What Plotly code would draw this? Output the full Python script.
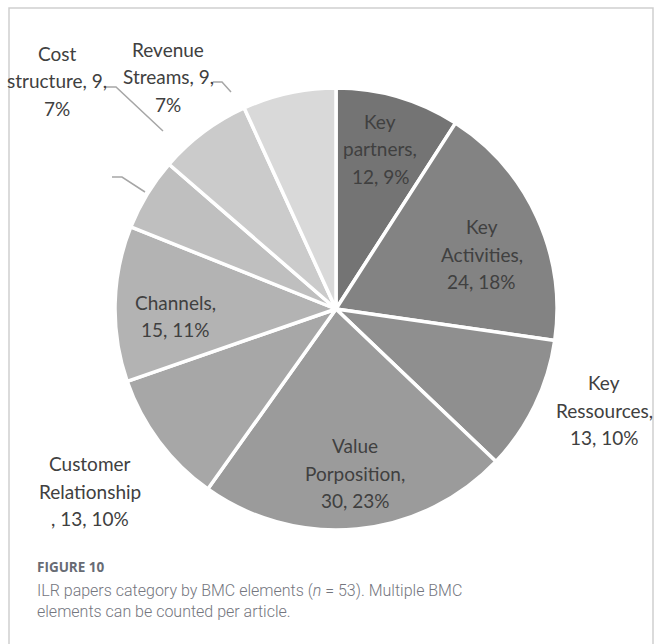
import plotly.graph_objects as go

# BMC element counts across ILR papers (clockwise from 12 o'clock)
elements = ["Key partners", "Key Activities", "Key Ressources", "Value Porposition",
            "Customer Relationship", "Channels", "Customer Segments",
            "Cost structure", "Revenue Streams"]
counts = [12, 24, 13, 30, 13, 15, 7, 9, 9]
slice_colors = ["#747474", "#838383", "#8f8f8f", "#9b9b9b", "#a7a7a7",
                "#b3b3b3", "#bfbfbf", "#cbcbcb", "#d9d9d9"]
# how each label wraps; None = label left blank
label_lines = [["Key", "partners,", "{v}, {p}%"],
               ["Key", "Activities,", "{v}, {p}%"],
               ["Key", "Ressources,", "{v}, {p}%"],
               ["Value", "Porposition,", "{v}, {p}%"],
               ["Customer", "Relationship", ", {v}, {p}%"],
               ["Channels,", "{v}, {p}%"],
               None,
               ["Cost", "structure, {v},", "{p}%"],
               ["Revenue", "Streams, {v},", "{p}%"]]

W, H = 654, 644
CX, CY, R = 336, 309, 221
LINE_GAP = 27.5

# label block centres in pixels (layout only)
label_pos = [(380, 149), (482, 254), (604, 410), (355, 473), (90, 491),
             (175, 316), None, (57, 81), (168, 77)]
# leader lines (pixel polylines) for the outside labels
leaders = [[(105, 87), (116, 87), (163, 131)],
           [(213, 82), (222, 82), (231, 92)],
           [(112, 177), (122, 177), (145, 192)]]


def px(x, y):
    return x / W, 1 - y / H


total = sum(counts)
fig = go.Figure(go.Pie(
    labels=elements, values=counts, sort=False, direction="clockwise",
    rotation=0, textinfo="none", hoverinfo="label+value+percent",
    marker=dict(colors=slice_colors, line=dict(color="white", width=3.5)),
    domain=dict(x=[(CX - R) / W, (CX + R) / W],
                y=[1 - (CY + R) / H, 1 - (CY - R) / H]),
    showlegend=False,
))

annotations = []
for lines, v, pos in zip(label_lines, counts, label_pos):
    if lines is None:
        continue
    p = round(100 * v / total)
    n = len(lines)
    for k, s in enumerate(lines):
        yy = pos[1] + (k - (n - 1) / 2) * LINE_GAP
        x, y = px(pos[0], yy)
        annotations.append(dict(x=x, y=y, xref="paper", yref="paper",
                                text=s.format(v=v, p=p), showarrow=False,
                                xanchor="center", yanchor="middle",
                                font=dict(family="Lato", size=19, color="#404040")))

shapes = []
for pts in leaders:
    path = "M " + " L ".join("{:.5f},{:.5f}".format(*px(*q)) for q in pts)
    shapes.append(dict(type="path", path=path, xref="paper", yref="paper",
                       line=dict(color="#a6a6a6", width=1.5)))

# figure frame
x0, y0 = px(9, 8)
x1, _ = px(653, 8)
shapes.append(dict(type="rect", xref="paper", yref="paper", x0=x0, x1=x1,
                   y0=-0.2, y1=y0, line=dict(color="#cfcfcf", width=1.5)))

# caption
cx, cy = px(35, 567)
annotations.append(dict(x=cx, y=cy, xref="paper", yref="paper", text="<b>FIGURE 10</b>",
                        showarrow=False, xanchor="left", yanchor="middle",
                        font=dict(family="Open Sans", size=13.5, color="#676b74")))
cx, cy = px(35, 601)
annotations.append(dict(
    x=cx, y=cy, xref="paper", yref="paper",
    text="ILR papers category by BMC elements (<i>n</i> = 53). Multiple BMC<br>"
         "elements can be counted per article.",
    showarrow=False, xanchor="left", yanchor="middle", align="left",
    font=dict(family="Roboto", size=16, weight=300, color="#74767e")))

fig.update_layout(width=W, height=H, margin=dict(l=0, r=0, t=0, b=0),
                  paper_bgcolor="white", plot_bgcolor="white",
                  annotations=annotations, shapes=shapes)
fig.write_html("out.html")
